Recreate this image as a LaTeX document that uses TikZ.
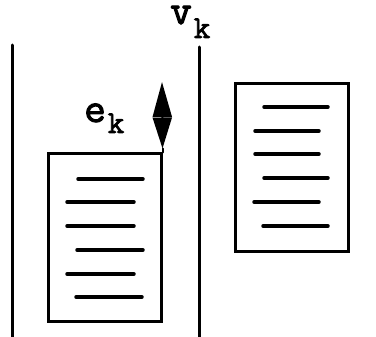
\documentclass[tikz,border=0pt]{standalone}
\usepackage{fontspec}
\newfontfamily\lblfont{Latin Modern Mono}[FakeBold=2.5]
\usetikzlibrary{arrows.meta,calc}

\begin{document}
\begin{tikzpicture}[x=1pt,y=-1pt,line cap=round,>=Latex,
    rule/.style={line width=3pt},
    page/.style={draw,line width=3pt,inner sep=0pt,minimum width=113pt,minimum height=168pt},
    txtline/.style={line width=3.5pt},
    lbl/.style={font=\lblfont\fontsize{42}{42}\selectfont,inner sep=0pt}]
  \useasboundingbox (0,0) rectangle (376,337);
  % vertical rules
  \draw[rule] (12,45) -- (12,337);
  \draw[rule] (199,47) -- (199,337);
  % the two pages
  \node[page] (lpage) at (104.5,238) {};
  \node[page] (rpage) at (291.5,167.5) {};
  \foreach \y/\a/\b in {179/78/143,202/67/134,226/67/134,250/77/143,274/67/134,297/76/142}
    \draw[txtline] (\a,\y) -- (\b,\y);
  \foreach \y/\a/\b in {107/264/328,131/255/319,154/255/319,178/264/328,202/254/319,226/263/328}
    \draw[txtline] (\a,\y) -- (\b,\y);
  % offset arrow
  \coordinate (etop) at (162,82);
  \draw[line width=2pt,{Triangle[length=35pt,width=19pt]}-{Triangle[length=31pt,width=19pt]}]
    (etop) -- ($(lpage.north east)+(0,-4)$) coordinate (ebot);
  \draw[line width=2pt] (ebot) -- (lpage.north east);
  % labels
  \node[lbl,anchor=base west] (ek) at (84,122) {e\hspace{2pt}\raisebox{-11pt}{\fontsize{32}{32}\selectfont k}};
  \node[lbl,anchor=base west] (vk) at (170,24) {v\hspace{2pt}\raisebox{-14pt}{\fontsize{32}{32}\selectfont k}};
\end{tikzpicture}
\end{document}
